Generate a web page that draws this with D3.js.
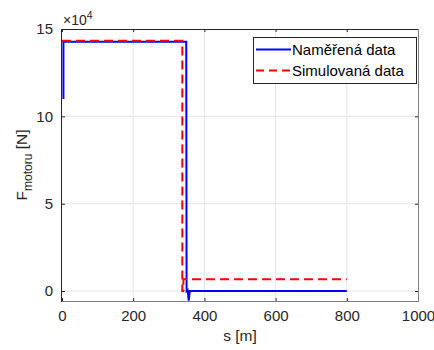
<!DOCTYPE html>
<html>
<head>
<meta charset="utf-8">
<script src="https://cdn.jsdelivr.net/npm/d3@7"></script>
<style>
  body { margin: 0; background: #fff; }
  text { font-family: "Liberation Sans", Arial, sans-serif; }
</style>
</head>
<body>
<script>
// data (s in m, force in units of 1e4 N)
var measS = [4, 4, 349, 350, 353, 356, 359, 800];
var measF = [11.0, 14.27, 14.27, 0.0, 0.05, -0.55, 0.0, 0.0];
var simS = [0, 338, 338, 341, 341, 800];
var simF = [14.33, 14.33, 0.0, 0.0, 0.67, 0.67];
var xTicks = [0, 200, 400, 600, 800, 1000];
var yTicks = [0, 5, 10, 15];
var legendNames = ["Naměřená data", "Simulovaná data"];

var width = 434, height = 350;
var mLeft = 62, mRight = 418, mTop = 29, mBottom = 301;

var svg = d3.select("body").append("svg")
  .attr("width", width)
  .attr("height", height);

var x = d3.scaleLinear().domain([0, 1000]).range([mLeft, mRight]);
var y = d3.scaleLinear().domain([-0.57, 15]).range([mBottom, mTop]);

// grid
svg.append("g").selectAll("line").data(xTicks.slice(1, -1)).enter().append("line")
  .attr("x1", d => x(d)).attr("x2", d => x(d))
  .attr("y1", mTop).attr("y2", mBottom)
  .attr("stroke", "#e6e6e6").attr("stroke-width", 1);
svg.append("g").selectAll("line").data(yTicks.slice(0, -1)).enter().append("line")
  .attr("x1", mLeft).attr("x2", mRight)
  .attr("y1", d => y(d)).attr("y2", d => y(d))
  .attr("stroke", "#e6e6e6").attr("stroke-width", 1);

// axes with inward ticks
var xAxis = svg.append("g").attr("transform", "translate(0," + mBottom + ")")
  .call(d3.axisBottom(x).tickValues(xTicks).tickSize(-3).tickPadding(9).tickFormat(d3.format("d")));
var xTop = svg.append("g").attr("transform", "translate(0," + mTop + ")")
  .call(d3.axisTop(x).tickValues(xTicks).tickSize(-3).tickFormat(""));
var yAxis = svg.append("g").attr("transform", "translate(" + mLeft + ",0)")
  .call(d3.axisLeft(y).tickValues(yTicks).tickSize(-3).tickPadding(9));
var yRight = svg.append("g").attr("transform", "translate(" + mRight + ",0)")
  .call(d3.axisRight(y).tickValues(yTicks).tickSize(-3).tickFormat(""));

[xAxis, xTop, yAxis, yRight].forEach(function(g) {
  g.select(".domain").remove();
  g.selectAll("line").attr("stroke", "#262626");
  g.selectAll("text").attr("fill", "#262626").style("font-size", "15px")
    .style("font-family", "Liberation Sans, Arial, sans-serif");
});

// lines
var line = d3.line().x(d => x(d[0])).y(d => y(d[1]));
var simPts = d3.zip(simS, simF);
var measPts = d3.zip(measS, measF);

svg.append("path").datum(measPts).attr("d", line)
  .attr("fill", "none").attr("stroke", "#0000ff").attr("stroke-width", 2);
svg.append("path").datum(simPts).attr("d", line)
  .attr("fill", "none").attr("stroke", "#ff0000").attr("stroke-width", 2)
  .attr("stroke-dasharray", "9,5");

// box
svg.append("line").attr("x1", mLeft).attr("x2", mRight).attr("y1", mTop + 0.5).attr("y2", mTop + 0.5)
  .attr("stroke", "#262626");
svg.append("line").attr("x1", mRight + 0.5).attr("x2", mRight + 0.5).attr("y1", mTop).attr("y2", mBottom)
  .attr("stroke", "#7f7f7f");
svg.append("line").attr("x1", mLeft).attr("x2", mRight + 1).attr("y1", mBottom + 0.5).attr("y2", mBottom + 0.5)
  .attr("stroke", "#7f7f7f");
svg.append("line").attr("x1", mLeft - 0.5).attr("x2", mLeft - 0.5).attr("y1", mTop).attr("y2", mBottom + 1)
  .attr("stroke", "#262626");

// exponent label
var ex = svg.append("text").attr("x", mLeft + 1).attr("y", 25)
  .attr("fill", "#262626").style("font-size", "14px");
ex.append("tspan").text("×10");
ex.append("tspan").attr("dy", -6).style("font-size", "10.5px").text("4");

// axis labels
svg.append("text").attr("x", x(500)).attr("y", 341)
  .attr("text-anchor", "middle").attr("fill", "#262626").style("font-size", "15.5px")
  .text("s [m]");
var yl = svg.append("text")
  .attr("transform", "translate(27," + ((mTop + mBottom) / 2) + ") rotate(-90)")
  .attr("text-anchor", "middle").attr("fill", "#262626").style("font-size", "15.5px");
yl.append("tspan").text("F");
yl.append("tspan").attr("dy", 5).style("font-size", "12px").text("motoru");
yl.append("tspan").attr("dy", -5).text(" [N]");

// legend
var lg = svg.append("g");
lg.append("rect").attr("x", 253.5).attr("y", 37.5).attr("width", 163).attr("height", 46)
  .attr("fill", "#fff").attr("stroke", "#262626").attr("stroke-width", 1);
var rows = [{c: "#0000ff", dash: null}, {c: "#ff0000", dash: "8,5"}];
rows.forEach(function(r, i) {
  var yy = 49.5 + i * 21;
  lg.append("line").attr("x1", 256).attr("x2", 291).attr("y1", yy).attr("y2", yy)
    .attr("stroke", r.c).attr("stroke-width", 2).attr("stroke-dasharray", r.dash);
  lg.append("text").attr("x", 292).attr("y", yy + 5.5)
    .attr("fill", "#000").style("font-size", "15px").text(legendNames[i]);
});
</script>
</body>
</html>
